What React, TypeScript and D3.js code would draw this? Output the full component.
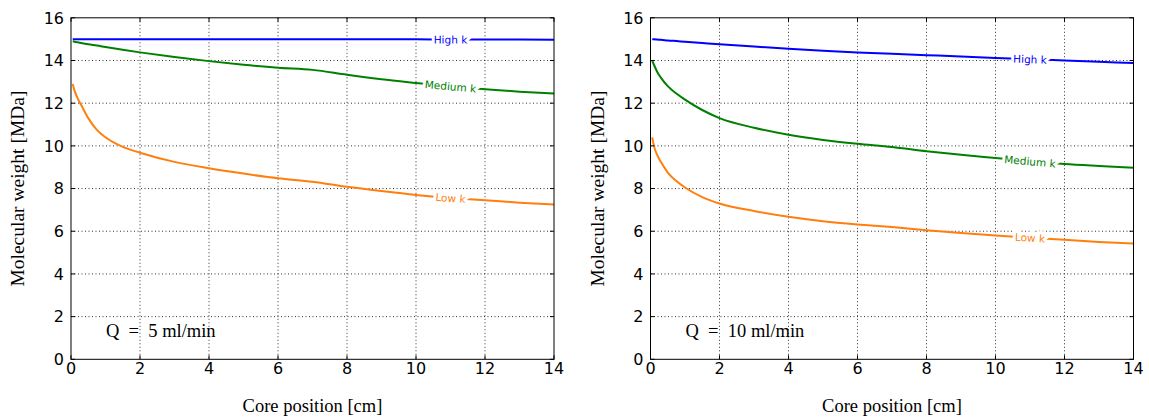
import React from "react";
import * as d3 from "d3";

const xPos = [0.05, 0.1, 0.2, 0.3, 0.5, 0.75, 1, 1.5, 2, 3, 4, 5, 6, 7, 8, 9, 10, 11, 12, 13, 14];

const leftHigh = [15, 15, 15, 15, 15, 15, 15, 15, 15, 15, 15, 15, 15, 15, 14.99, 14.99, 14.99, 14.98, 14.98, 14.98, 14.97];
const leftMedium = [14.9, 14.88, 14.85, 14.82, 14.76, 14.7, 14.63, 14.5, 14.38, 14.16, 13.97, 13.8, 13.66, 13.56, 13.33, 13.12, 12.95, 12.79, 12.65, 12.54, 12.45];
const leftLow = [12.9, 12.6, 12.2, 11.9, 11.3, 10.75, 10.4, 9.95, 9.68, 9.25, 8.95, 8.7, 8.48, 8.32, 8.08, 7.88, 7.7, 7.56, 7.45, 7.34, 7.25];

const rightHigh = [15.0, 14.99, 14.98, 14.97, 14.94, 14.91, 14.88, 14.82, 14.76, 14.65, 14.55, 14.46, 14.38, 14.31, 14.25, 14.19, 14.12, 14.06, 14.0, 13.94, 13.88];
const rightMedium = [14.0, 13.8, 13.45, 13.2, 12.8, 12.45, 12.17, 11.68, 11.3, 10.85, 10.52, 10.28, 10.1, 9.95, 9.75, 9.58, 9.43, 9.28, 9.15, 9.06, 8.98];
const rightLow = [10.4, 10.0, 9.55, 9.25, 8.75, 8.35, 8.05, 7.6, 7.3, 6.95, 6.68, 6.47, 6.32, 6.2, 6.05, 5.92, 5.8, 5.7, 5.6, 5.5, 5.42];

const seriesNames = ["High k", "Medium k", "Low k"];
const seriesColors = ["#0000ff", "#008000", "#ff7f0e"];
const labelX = [11, 11, 11];

const xTicks = [0, 2, 4, 6, 8, 10, 12, 14];
const yTicks = [0, 2, 4, 6, 8, 10, 12, 14, 16];

const panels = [
  { left: 71, note: "Q  =  5 ml/min", series: [leftHigh, leftMedium, leftLow] },
  { left: 650.5, note: "Q  =  10 ml/min", series: [rightHigh, rightMedium, rightLow] },
];

const W = 483;
const TOP = 17.8;
const BOTTOM = 359.3;
const serif = "'Liberation Serif', 'DejaVu Serif', serif";
const sans = "'DejaVu Sans', sans-serif";

function Panel({ left, note, series }: { left: number; note: string; series: number[][] }) {
  const x = d3.scaleLinear().domain([0, 14]).range([left, left + W]);
  const y = d3.scaleLinear().domain([0, 16]).range([BOTTOM, TOP]);
  const line = d3
    .line<number>()
    .x((_, i) => x(xPos[i]))
    .y((d) => y(d))
    .curve(d3.curveMonotoneX);
  const interp = (vals: number[], xv: number) => {
    const i = d3.bisectLeft(xPos, xv);
    const x0 = xPos[i - 1], x1 = xPos[i];
    const t = (xv - x0) / (x1 - x0);
    return vals[i - 1] + t * (vals[i] - vals[i - 1]);
  };
  return (
    <g>
      {xTicks.slice(1, -1).map((t) => (
        <line key={"gx" + t} x1={x(t)} x2={x(t)} y1={TOP} y2={BOTTOM} stroke="#000" strokeWidth={1} strokeDasharray="1,2.5" opacity={0.8} />
      ))}
      {yTicks.slice(1, -1).map((t) => (
        <line key={"gy" + t} x1={left} x2={left + W} y1={y(t)} y2={y(t)} stroke="#000" strokeWidth={1} strokeDasharray="1,2.5" opacity={0.8} />
      ))}
      {series.map((s, k) => (
        <path key={"l" + k} d={line(s) || ""} fill="none" stroke={seriesColors[k]} strokeWidth={2} />
      ))}
      {series.map((s, k) => {
        const lx = labelX[k];
        const vx = interp(s, lx);
        const a = interp(s, lx - 0.5), b = interp(s, lx + 0.5);
        const ang = (Math.atan2(y(b) - y(a), x(lx + 0.5) - x(lx - 0.5)) * 180) / Math.PI;
        return (
          <text
            key={"t" + k}
            transform={`translate(${x(lx)},${y(vx)}) rotate(${ang})`}
            textAnchor="middle"
            dominantBaseline="central"
            fontFamily={sans}
            fontSize={10.5}
            fill={seriesColors[k]}
            stroke="#fff"
            strokeWidth={6}
            paintOrder="stroke"
          >
            {seriesNames[k]}
          </text>
        );
      })}
      <rect x={left} y={TOP} width={W} height={BOTTOM - TOP} fill="none" stroke="#000" strokeWidth={1} />
      {xTicks.map((t) => (
        <g key={"tx" + t}>
          <line x1={x(t)} x2={x(t)} y1={BOTTOM} y2={BOTTOM - 4} stroke="#000" />
          <line x1={x(t)} x2={x(t)} y1={TOP} y2={TOP + 4} stroke="#000" />
          <text x={x(t)} y={BOTTOM + 15} textAnchor="middle" fontFamily={sans} fontSize={16} fill="#000">
            {t}
          </text>
        </g>
      ))}
      {yTicks.map((t) => (
        <g key={"ty" + t}>
          <line x1={left} x2={left + 4} y1={y(t)} y2={y(t)} stroke="#000" />
          <line x1={left + W} x2={left + W - 4} y1={y(t)} y2={y(t)} stroke="#000" />
          <text x={left - 7} y={y(t)} dy="0.36em" textAnchor="end" fontFamily={sans} fontSize={16} fill="#000">
            {t}
          </text>
        </g>
      ))}
      <text x={left + W / 2} y={412} textAnchor="middle" fontFamily={serif} fontSize={18.5} fill="#000">
        Core position [cm]
      </text>
      <text transform={`translate(${left - 47},${(TOP + BOTTOM) / 2}) rotate(-90)`} textAnchor="middle" fontFamily={serif} fontSize={19.5} fill="#000">
        Molecular weight [MDa]
      </text>
      <text x={left + 35} y={337} fontFamily={serif} fontSize={18.5} fill="#000" style={{ whiteSpace: "pre" }}>
        {note}
      </text>
    </g>
  );
}

export default function App() {
  return (
    <svg width={1149} height={419} style={{ position: "absolute", left: 0, top: 0, background: "#fff" }}>
      <rect width={1149} height={419} fill="#fff" />
      {panels.map((p, i) => (
        <Panel key={i} left={p.left} note={p.note} series={p.series} />
      ))}
    </svg>
  );
}
